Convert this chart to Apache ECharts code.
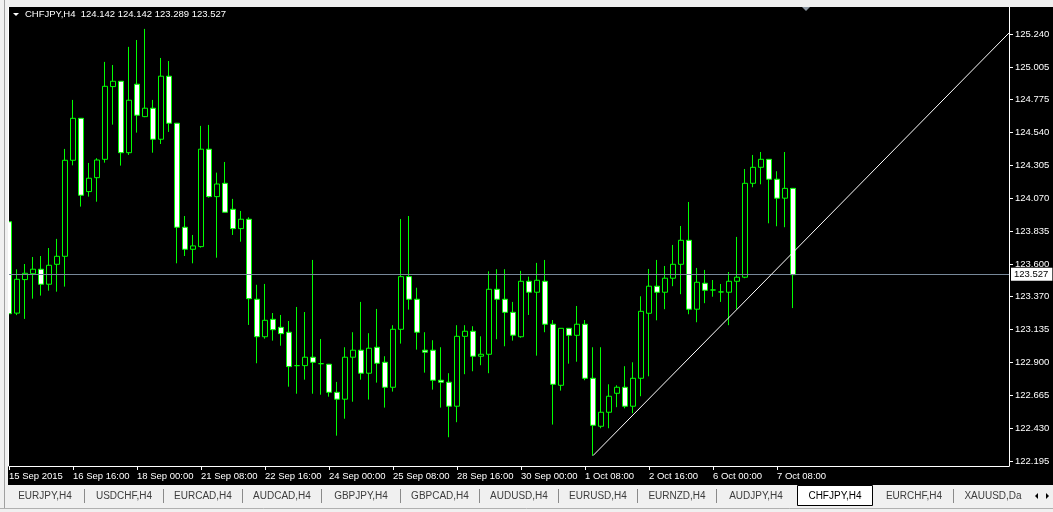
<!DOCTYPE html>
<html><head><meta charset="utf-8">
<script src="https://cdn.jsdelivr.net/npm/echarts@6/dist/echarts.min.js"></script>
<style>html,body{margin:0;padding:0;background:#000;overflow:hidden}#c{width:1053px;height:512px}</style>
</head><body><div id="c"></div>
<script>
// ---- data (H4 candles, CHFJPY) ----
const opens  = [123.904,123.253,123.492,123.534,123.566,123.459,123.601,123.658,124.342,124.641,
                124.119,124.218,124.349,124.867,124.905,124.396,124.884,124.653,124.713,124.492,
                124.941,124.606,123.865,123.708,123.727,124.421,124.083,124.178,123.993,123.855,
                123.922,123.352,123.085,123.209,123.152,123.117,122.879,122.879,122.939,122.893,
                122.889,122.689,122.640,122.939,122.989,122.825,123.010,122.903,122.725,123.138,
                123.513,123.352,122.989,122.989,122.775,122.761,122.590,123.088,123.124,122.946,
                122.960,123.423,123.352,123.259,123.085,123.480,123.402,123.480,123.174,122.739,
                123.145,123.095,123.174,122.789,122.447,122.547,122.682,122.725,122.590,122.789,
                123.252,123.445,123.402,123.502,123.601,123.772,123.281,123.466,123.418,123.404,
                123.402,123.480,123.509,124.178,124.292,124.349,124.207,124.072,124.142];
const highs  = [124.004,123.565,123.603,123.653,123.660,123.717,123.782,124.423,124.772,124.643,
                124.323,124.357,125.043,125.021,124.907,125.150,125.199,125.278,124.772,125.071,
                125.049,124.608,123.945,123.810,124.587,124.594,124.254,124.330,124.067,123.981,
                123.936,123.455,123.461,123.254,123.240,123.197,123.297,123.261,123.632,123.069,
                122.891,122.763,123.010,123.117,123.333,123.110,123.283,122.946,123.167,123.924,
                123.945,123.434,123.117,123.060,123.010,122.825,123.167,123.167,123.160,123.088,
                123.551,123.566,123.566,123.333,123.554,123.513,123.611,123.632,123.204,123.145,
                123.145,123.304,123.204,123.010,123.010,122.746,122.739,122.875,122.903,123.373,
                123.568,123.632,123.589,123.739,123.874,124.045,123.575,123.561,123.489,123.461,
                123.546,123.796,124.280,124.380,124.401,124.349,124.264,124.401,124.142];
const lows   = [123.120,123.239,123.212,123.356,123.378,123.413,123.406,123.442,124.306,124.012,
                124.083,124.047,124.325,124.596,124.304,124.380,124.539,124.649,124.396,124.458,
                124.544,123.608,123.660,123.608,123.720,124.076,123.648,123.972,123.810,123.762,
                123.169,122.896,123.071,123.057,123.021,122.729,122.679,122.779,122.679,122.672,
                122.658,122.380,122.501,122.622,122.779,122.637,122.758,122.580,122.694,123.036,
                123.278,122.993,122.829,122.708,122.580,122.369,122.476,122.818,122.839,122.882,
                122.825,123.067,123.017,123.057,123.078,123.240,122.950,123.117,122.459,122.701,
                122.893,122.907,122.775,122.238,122.433,122.433,122.583,122.575,122.540,122.661,
                122.803,123.202,123.281,123.445,123.388,123.245,123.188,123.324,123.370,123.333,
                123.167,123.281,123.502,124.150,124.171,123.893,123.872,123.865,123.289];
const closes = [123.249,123.494,123.537,123.566,123.459,123.594,123.658,124.342,124.641,124.093,
                124.214,124.344,124.869,124.905,124.396,124.770,124.663,124.713,124.492,124.941,
                124.606,123.865,123.708,123.732,124.421,124.083,124.173,123.972,123.855,123.922,
                123.356,123.085,123.202,123.135,123.107,122.872,122.879,122.939,122.903,122.893,
                122.689,122.640,122.939,122.989,122.825,123.003,122.896,122.725,123.138,123.513,
                123.352,123.117,122.975,122.775,122.761,122.590,123.088,123.124,122.946,122.960,
                123.423,123.352,123.259,123.096,123.480,123.402,123.487,123.174,122.746,123.145,
                123.095,123.174,122.789,122.454,122.547,122.661,122.725,122.590,122.789,123.266,
                123.445,123.402,123.502,123.601,123.772,123.281,123.473,123.416,123.418,123.404,
                123.480,123.509,124.178,124.292,124.349,124.207,124.072,124.142,123.527];
const xTickLabels = ['15 Sep 2015','16 Sep 16:00','18 Sep 00:00','21 Sep 08:00','22 Sep 16:00','24 Sep 00:00',
                     '25 Sep 08:00','28 Sep 16:00','30 Sep 00:00','1 Oct 08:00','2 Oct 16:00','6 Oct 00:00','7 Oct 08:00'];
const yTickValues = [125.240,125.005,124.775,124.540,124.305,124.070,123.835,123.600,123.370,123.135,122.900,122.665,122.430,122.195];
const lastPrice = 123.527;
const trendStart = [73, 122.238];
const trendEnd = [125, 125.249];
const tabs = ['EURJPY,H4','USDCHF,H4','EURCAD,H4','AUDCAD,H4','GBPJPY,H4','GBPCAD,H4','AUDUSD,H4',
              'EURUSD,H4','EURNZD,H4','AUDJPY,H4','CHFJPY,H4','EURCHF,H4','XAUUSD,Da'];
const activeTab = 'CHFJPY,H4';
const titleText = 'CHFJPY,H4  124.142 124.142 123.289 123.527';
const SLOTS = 126;   // bars + right shift space
const BARS_PER_LABEL = 8;

// ---- build ----
const categories = [];
for (let i = 0; i < SLOTS; i++) categories.push(String(i));
const candleData = opens.map((o, i) => [o, closes[i], lows[i], highs[i]]);
const trendData = new Array(SLOTS).fill(null);
trendData[trendStart[0]] = trendStart[1];
trendData[trendEnd[0]] = trendEnd[1];

const FONT = 'Liberation Sans';
const labelIdx = i => i % BARS_PER_LABEL === 0 && (i / BARS_PER_LABEL) < xTickLabels.length;

const graphics = [
  {type:'rect', shape:{x:0,y:0,width:1053,height:7}, style:{fill:'#f0f0f0'}, z:100},
  {type:'rect', shape:{x:0,y:0,width:8,height:486}, style:{fill:'#f0f0f0'}, z:100},
  {type:'line', shape:{x1:4.5,y1:0,x2:4.5,y2:486}, style:{stroke:'#a0a0a0',lineWidth:1}, z:101},
  {type:'line', shape:{x1:8.5,y1:7,x2:8.5,y2:466}, style:{stroke:'#ffffff',lineWidth:1}, z:101},
  {type:'polygon', shape:{points:[[13,13],[19,13],[16,16]]}, style:{fill:'#ffffff'}, z:101},
  {type:'text', x:25, y:14, style:{text:titleText, fill:'#ffffff', font:'9.5px "'+FONT+'"', textVerticalAlign:'middle'}, z:101},
  {type:'polygon', shape:{points:[[802,7],[810,7],[806,11]]}, style:{fill:'#8c96a0'}, z:101},
  {type:'rect', shape:{x:0,y:485,width:1053,height:27}, style:{fill:'#f0f0f0'}, z:100},
  {type:'line', shape:{x1:4.5,y1:485,x2:4.5,y2:508}, style:{stroke:'#a0a0a0',lineWidth:1}, z:101},
  {type:'line', shape:{x1:0,y1:508.5,x2:1053,y2:508.5}, style:{stroke:'#b0b0b0',lineWidth:1}, z:101}
];
tabs.forEach((t, k) => {
  const cx = 45 + 79 * k;
  if (t === activeTab) {
    graphics.push({type:'rect', shape:{x:cx-37.5,y:485.5,width:75,height:20}, style:{fill:'#ffffff',stroke:'#000000',lineWidth:1}, z:102});
  }
  graphics.push({type:'text', x:cx, y:496, style:{text:t, fill:t===activeTab?'#000000':'#3c3c3c', font:'10px "'+FONT+'"', textAlign:'center', textVerticalAlign:'middle'}, z:103});
  const sep = cx + 39.5;
  const nextActive = tabs[k+1] === activeTab;
  if (k < tabs.length - 1 && t !== activeTab && !nextActive) {
    graphics.push({type:'line', shape:{x1:sep,y1:489,x2:sep,y2:503}, style:{stroke:'#8a8a8a',lineWidth:1}, z:101});
  }
});
graphics.push({type:'polygon', shape:{points:[[1038,493],[1038,499],[1035,496]]}, style:{fill:'#000'}, z:103});
graphics.push({type:'polygon', shape:{points:[[1046,493],[1046,499],[1049,496]]}, style:{fill:'#000'}, z:103});

const chart = echarts.init(document.getElementById('c'), null, {renderer:'canvas'});
chart.setOption({
  backgroundColor:'#000000',
  animation:false,
  grid:{left:9, right:44, top:7, bottom:46, outerBoundsMode:'none', containLabel:false},
  xAxis:{
    type:'category', data:categories, boundaryGap:false,
    axisLine:{show:true, lineStyle:{color:'#ffffff', width:1}},
    axisTick:{show:true, interval:(i)=>labelIdx(i), length:4, lineStyle:{color:'#ffffff'}},
    axisLabel:{interval:(i)=>labelIdx(i), formatter:(v, i)=>xTickLabels[i / BARS_PER_LABEL],
      color:'#ffffff', fontFamily:FONT, fontSize:9.5, align:'left', margin:5, padding:[0,0,0,0]},
    splitLine:{show:false}
  },
  yAxis:{
    type:'value', position:'right', min:122.164, max:125.434, scale:true,
    axisLine:{show:true, lineStyle:{color:'#ffffff', width:1}},
    axisTick:{show:true, customValues:yTickValues, length:4, lineStyle:{color:'#ffffff'}},
    axisLabel:{customValues:yTickValues, formatter:(v)=>Number(v).toFixed(3), color:'#ffffff', fontFamily:FONT, fontSize:9.5, margin:6},
    splitLine:{show:false}
  },
  series:[
    {
      type:'candlestick', data:candleData, barWidth:5,
      itemStyle:{color:'#000000', color0:'#ffffff', borderColor:'#00ff00', borderColor0:'#00ff00', borderColorDoji:'#00ff00', borderWidth:1},
      markLine:{
        silent:true, symbol:'none', animation:false,
        lineStyle:{color:'#778899', type:'solid', width:1},
        label:{show:true, position:'end', formatter:lastPrice.toFixed(3), backgroundColor:'#ffffff', color:'#000000',
               fontFamily:FONT, fontSize:9.5, padding:[2,4,1,3], distance:2},
        data:[{yAxis:lastPrice}]
      },
      z:2
    },
    {
      type:'line', data:trendData, connectNulls:true, showSymbol:false, symbol:'none',
      lineStyle:{color:'#ffffff', width:1}, z:5, silent:true
    }
  ],
  graphic:graphics
});
</script></body></html>
